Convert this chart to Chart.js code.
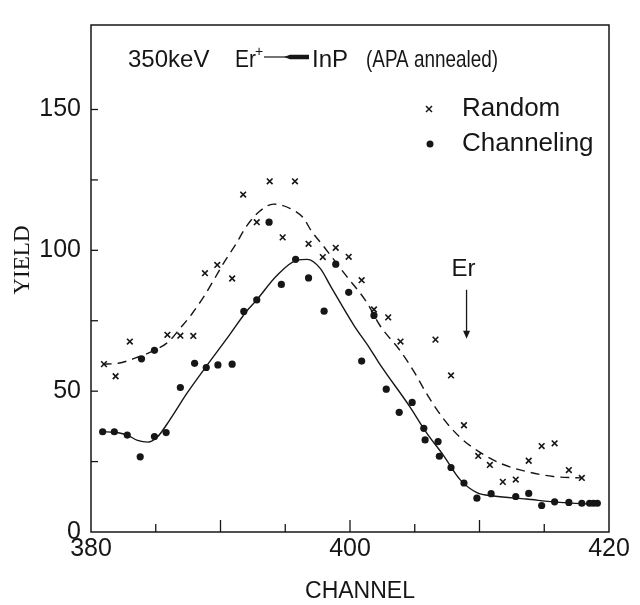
<!DOCTYPE html>
<html><head><meta charset="utf-8">
<script src="https://cdn.jsdelivr.net/npm/chart.js@4.4.1/dist/chart.umd.min.js"></script>
<style>html,body{margin:0;padding:0;background:#fff}#wrap{width:640px;height:605px}</style>
</head><body><div id="wrap"><canvas id="c" width="640" height="605"></canvas></div>
<script>
// ---- data ----
const randomChannel = [381.0, 381.9, 383.0, 385.9, 386.9, 387.9, 388.8, 389.75, 390.9, 391.75, 392.8, 393.8, 395.75, 394.8, 396.8, 397.9, 398.9, 399.9, 400.9, 401.85, 402.95, 403.9, 406.6, 407.8, 408.8, 409.9, 410.8, 411.8, 412.8, 413.8, 414.8, 415.8, 416.9, 417.9];
const randomYield   = [59.6, 55.3, 67.6, 70.0, 69.7, 69.6, 91.9, 94.8, 90.0, 119.8, 110.0, 124.5, 124.5, 104.6, 102.3, 97.6, 100.9, 97.7, 89.4, 79.0, 76.2, 67.6, 68.3, 55.6, 37.9, 27.0, 23.8, 17.8, 18.6, 25.3, 30.5, 31.5, 22.0, 19.2];

const channelingChannel = [380.9, 381.8, 382.8, 383.8, 383.9, 384.9, 384.9, 385.8, 386.9, 388.0, 388.9, 389.8, 390.9, 391.8, 392.8, 393.75, 394.7, 395.8, 396.8, 398.0, 398.9, 399.9, 400.9, 401.85, 402.8, 403.8, 404.8, 405.7, 405.8, 406.8, 406.9, 407.8, 408.8, 409.8, 410.9, 412.8, 413.8, 414.8, 415.8, 416.9, 417.9, 418.5, 418.8, 419.1];
const channelingYield   = [35.6, 35.6, 34.4, 26.7, 61.5, 64.5, 33.9, 35.3, 51.3, 59.9, 58.4, 59.3, 59.6, 78.3, 82.4, 110.0, 87.9, 96.8, 90.2, 78.4, 95.1, 85.1, 60.7, 76.9, 50.7, 42.5, 46.0, 36.8, 32.7, 32.1, 26.9, 22.9, 17.4, 12.0, 13.6, 12.6, 13.7, 9.4, 10.7, 10.5, 10.2, 10.2, 10.2, 10.2];

const randomFitChannel = [380.9, 382.1, 383.5, 384.9, 386.0, 386.9, 387.8, 388.7, 389.5, 390.3, 391.2, 392.0, 393.0, 394.1, 395.4, 396.4, 397.0, 397.9, 399.7, 401.3, 402.3, 403.9, 405.0, 405.9, 407.2, 408.5, 409.8, 411.6, 413.6, 415.7, 417.9];
const randomFitYield   = [59.6, 59.9, 61.9, 64.5, 67.6, 72.4, 77.5, 83.5, 89.6, 95.9, 102.3, 108.5, 113.8, 116.4, 114.8, 111.5, 107.0, 101.8, 91.0, 81.5, 73.4, 64.2, 56.5, 49.2, 40.3, 33.6, 29.0, 24.4, 21.5, 19.7, 19.2];

const channelingFitChannel = [380.9, 381.8, 382.8, 383.6, 384.4, 385.1, 386.1, 387.4, 388.8, 390.7, 392.0, 392.8, 394.3, 395.9, 396.7, 397.7, 398.5, 400.3, 401.5, 402.3, 404.6, 405.9, 407.2, 408.5, 409.8, 411.1, 413.6, 416.2, 418.8];
const channelingFitYield   = [35.6, 35.4, 34.4, 32.5, 31.9, 33.6, 39.9, 49.2, 58.2, 70.0, 78.3, 82.4, 90.8, 96.5, 96.8, 93.6, 87.3, 73.4, 65.4, 59.6, 44.6, 35.3, 27.3, 18.6, 14.0, 12.8, 11.7, 10.5, 9.9];

const xTickLabels = [380, 400, 420];
const yTickLabels = [0, 50, 100, 150];
const xMinorTicks = [385, 390, 395, 400, 405, 410, 415];
const yMinorTicks = [25, 50, 75, 100, 125, 150];

const titleParts = ['350keV', 'Er', '+', 'InP', '(APA annealed)'];
const legendLabels = ['Random', 'Channeling'];
const markerLabel = 'Er';
const markerChannel = 409.0;
const markerYieldTop = 86;
const markerYieldTip = 69;
const xAxisTitle = 'CHANNEL';
const yAxisTitle = 'YIELD';

// ---- chart ----
const pts = (xs, ys) => xs.map((x, i) => ({ x, y: ys[i] }));
const INK = '#161616';
const SANS = '"Liberation Sans", Arial, sans-serif';
const SERIF = '"Liberation Serif", "Times New Roman", serif';

const decor = {
  id: 'decor',
  afterDraw(chart) {
    const { ctx, chartArea: a, scales: { x, y } } = chart;
    ctx.save();
    ctx.strokeStyle = INK; ctx.fillStyle = INK;
    const line = (x1, y1, x2, y2, w) => { ctx.lineWidth = w || 1.3; ctx.beginPath(); ctx.moveTo(x1, y1); ctx.lineTo(x2, y2); ctx.stroke(); };
    // frame
    ctx.lineWidth = 1.5;
    ctx.strokeRect(a.left, a.top, a.right - a.left, a.bottom - a.top);
    // inward ticks
    xMinorTicks.forEach(v => { const px = x.getPixelForValue(v); const len = v % 10 === 0 ? 12 : 8; line(px, a.bottom, px, a.bottom - len); });
    yMinorTicks.forEach(v => { const py = y.getPixelForValue(v); line(a.left, py, a.left + 7, py); });

    // title inside the plot
    ctx.textBaseline = 'alphabetic'; ctx.textAlign = 'left';
    ctx.font = '24px ' + SANS;
    const tb = a.top + 42;
    ctx.fillText(titleParts[0], a.left + 37, tb);
    ctx.fillText(titleParts[1], a.left + 144, tb, 21);
    ctx.font = '14px ' + SANS;
    ctx.fillText(titleParts[2], a.left + 164, tb - 11);
    // reaction arrow
    line(a.left + 173, tb - 10, a.left + 195, tb - 10, 1.2);
    ctx.beginPath();
    ctx.moveTo(a.left + 193, tb - 10); ctx.lineTo(a.left + 199, tb - 12.2); ctx.lineTo(a.left + 218, tb - 12.2);
    ctx.lineTo(a.left + 218, tb - 7.8); ctx.lineTo(a.left + 199, tb - 7.8); ctx.closePath(); ctx.fill();
    ctx.font = '24px ' + SANS;
    ctx.fillText(titleParts[3], a.left + 221, tb);
    ctx.fillText(titleParts[4], a.left + 275, tb, 132);

    // legend
    ctx.font = '26px ' + SANS; ctx.textBaseline = 'middle';
    const lx = a.left + 338, ly1 = a.top + 84, ly2 = a.top + 119;
    line(lx - 3, ly1 - 3, lx + 3, ly1 + 3, 1.5); line(lx - 3, ly1 + 3, lx + 3, ly1 - 3, 1.5);
    ctx.beginPath(); ctx.arc(lx + 1, ly2, 3.5, 0, Math.PI * 2); ctx.fill();
    ctx.fillText(legendLabels[0], a.left + 371, ly1);
    ctx.fillText(legendLabels[1], a.left + 371, ly2);

    // Er marker with arrow
    const ex = x.getPixelForValue(markerChannel);
    const eTop = y.getPixelForValue(markerYieldTop), eTip = y.getPixelForValue(markerYieldTip);
    ctx.font = '24px ' + SANS; ctx.textAlign = 'center'; ctx.textBaseline = 'alphabetic';
    ctx.fillText(markerLabel, ex - 3, eTop - 14);
    line(ex, eTop, ex, eTip - 4, 1.3);
    ctx.beginPath(); ctx.moveTo(ex - 3.5, eTip - 7); ctx.lineTo(ex + 3.5, eTip - 7); ctx.lineTo(ex, eTip + 1); ctx.closePath(); ctx.fill();

    // axis titles
    ctx.font = '23px ' + SANS; ctx.textAlign = 'center'; ctx.textBaseline = 'middle';
    ctx.fillText(xAxisTitle, a.left + 269, a.bottom + 60);
    ctx.save();
    ctx.translate(23, a.top + 235); ctx.rotate(-Math.PI / 2);
    ctx.font = '23px ' + SERIF;
    ctx.fillText(yAxisTitle, 0, 0);
    ctx.restore();
    ctx.restore();
  }
};

new Chart(document.getElementById('c'), {
  type: 'scatter',
  data: {
    datasets: [
      { label: 'Random', data: pts(randomChannel, randomYield), pointStyle: 'crossRot', pointRadius: 4, borderColor: INK, borderWidth: 1.6, backgroundColor: INK },
      { label: 'Channeling', data: pts(channelingChannel, channelingYield), pointStyle: 'circle', pointRadius: 3.6, borderColor: INK, borderWidth: 0, backgroundColor: INK },
      { label: 'Random fit', data: pts(randomFitChannel, randomFitYield), showLine: true, pointRadius: 0, borderColor: INK, borderWidth: 1.4, borderDash: [9, 6], cubicInterpolationMode: 'monotone', fill: false },
      { label: 'Channeling fit', data: pts(channelingFitChannel, channelingFitYield), showLine: true, pointRadius: 0, borderColor: INK, borderWidth: 1.4, cubicInterpolationMode: 'monotone', fill: false }
    ]
  },
  options: {
    responsive: false, animation: false, devicePixelRatio: 1,
    layout: { padding: { top: 13, right: 31, left: 0, bottom: 0 } },
    plugins: { legend: { display: false }, tooltip: { enabled: false } },
    scales: {
      x: {
        type: 'linear', min: 380, max: 420,
        afterBuildTicks: s => { s.ticks = xTickLabels.map(v => ({ value: v })); },
        afterFit: s => { s.height = 73; },
        grid: { display: false, drawTicks: false },
        border: { display: false },
        ticks: { color: INK, font: { family: SANS, size: 25 }, padding: 2, maxRotation: 0, autoSkip: false }
      },
      y: {
        type: 'linear', min: 0, max: 180,
        afterBuildTicks: s => { s.ticks = yTickLabels.map(v => ({ value: v })); },
        afterFit: s => { s.width = 91; },
        grid: { display: false, drawTicks: false },
        border: { display: false },
        ticks: { color: INK, font: { family: SANS, size: 25 }, padding: 10 }
      }
    }
  },
  plugins: [decor]
});
</script>
</body></html>
